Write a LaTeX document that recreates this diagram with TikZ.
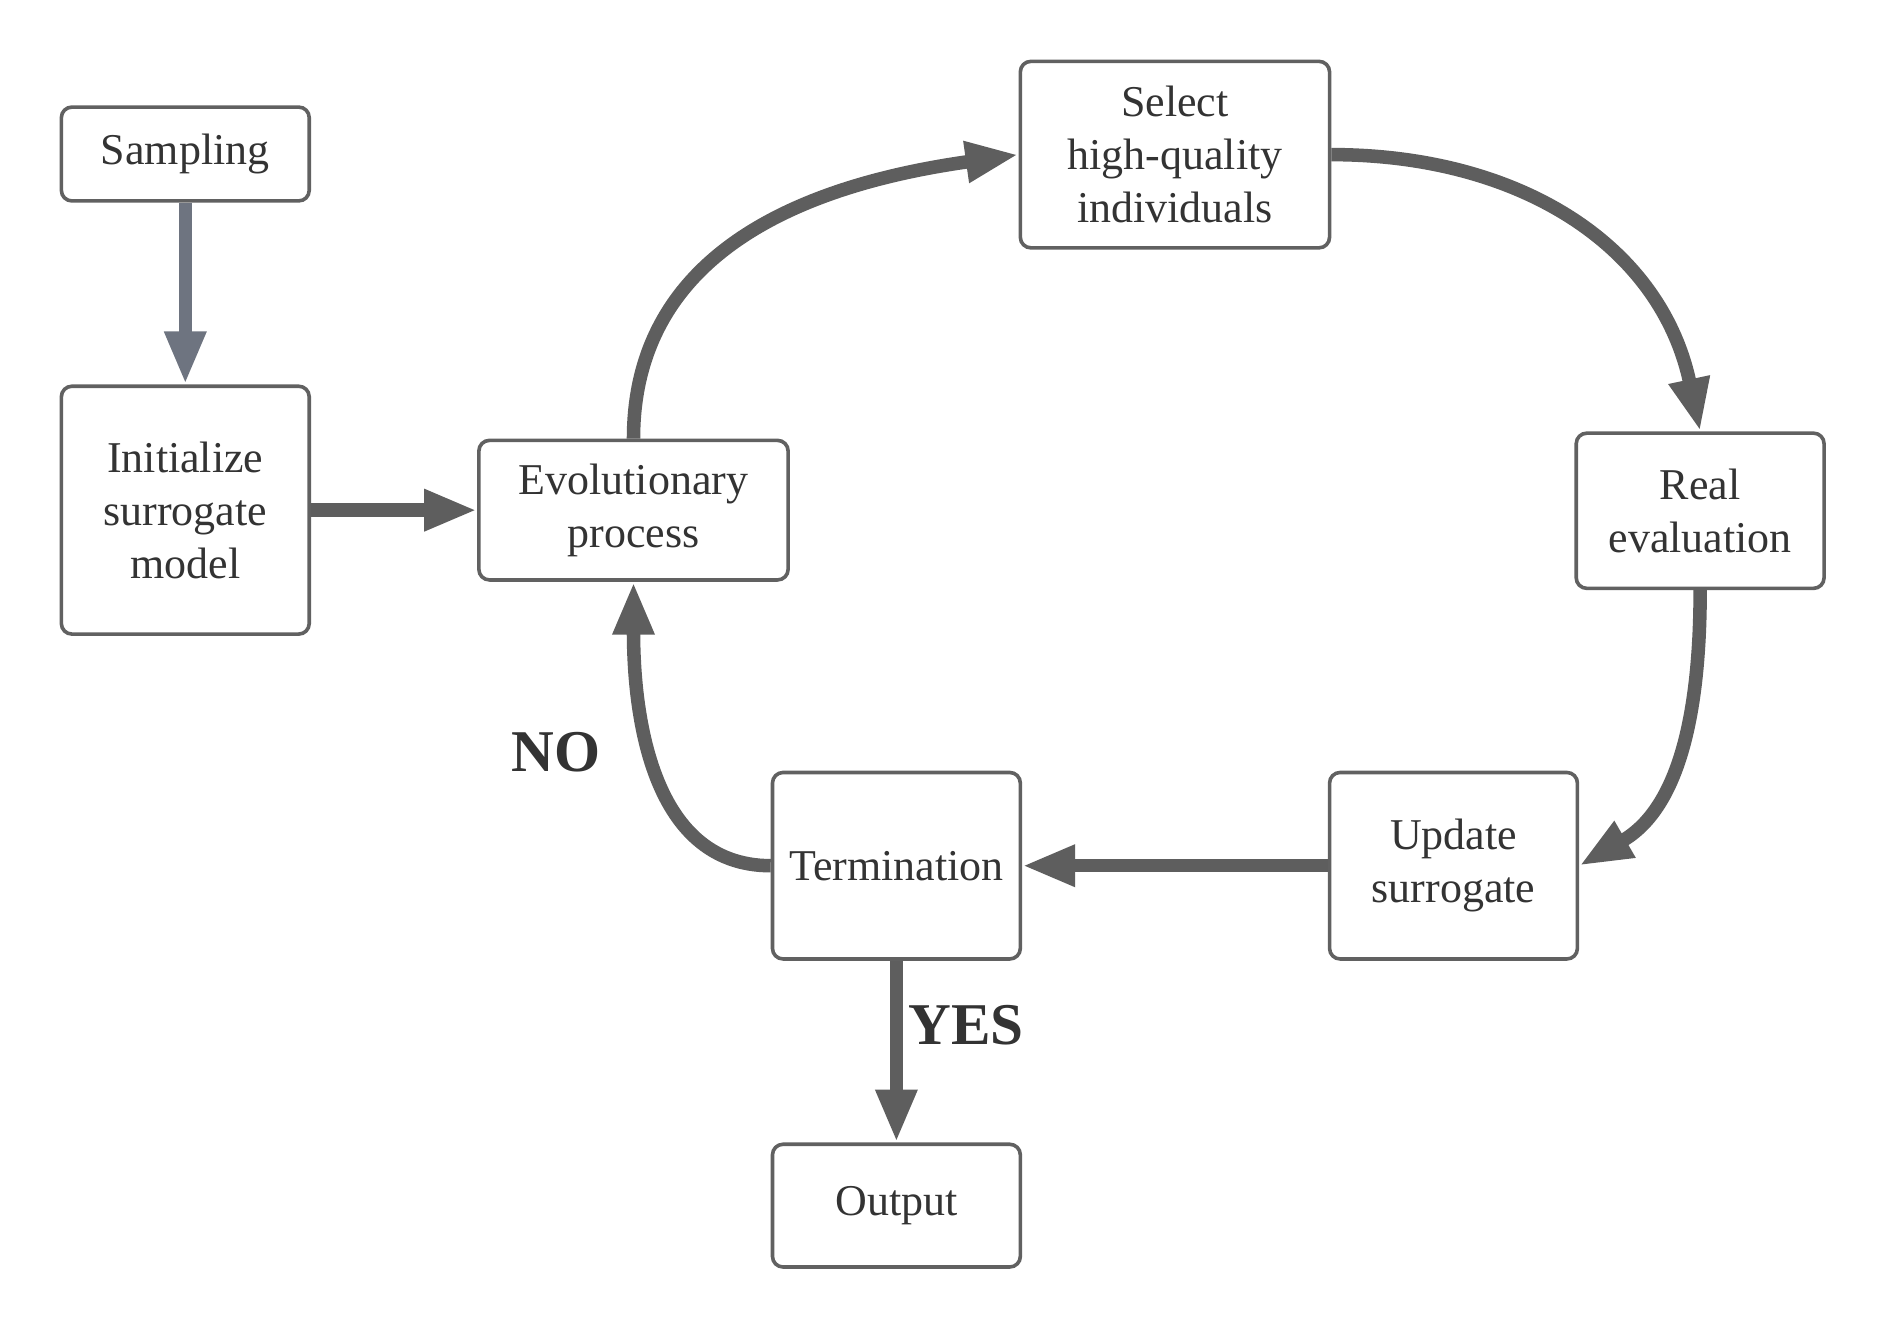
\documentclass[tikz,border=0pt]{standalone}
\usepackage{fontspec}
\setmainfont{Liberation Serif}
\usetikzlibrary{arrows.meta}
\definecolor{boxline}{HTML}{616161}
\definecolor{flowgray}{HTML}{5E5E5E}
\definecolor{bluegray}{HTML}{6E7480}
\definecolor{txt}{HTML}{333333}
\begin{document}
\begin{tikzpicture}[
    stepbox/.style={draw=boxline, line width=0.85pt, rounded corners=2.5pt, fill=white, text=txt, align=center, inner sep=0pt, font=\fontsize{10.4}{12.5}\selectfont},
    flow/.style={draw=flowgray, line width=3.2pt, -{Triangle[length=4.4mm, width=3.2mm]}},
    answer/.style={text=txt, font=\fontsize{14}{16}\selectfont\bfseries}
    ]
    \fill[white] (0,0) rectangle (15.6,-11);
    \useasboundingbox (0,0) rectangle (15.6,-11);

    \node [stepbox, minimum width=2.06cm, minimum height=0.78cm] (samp) at (1.54,-1.28) {Sampling};
    \node [stepbox, minimum width=2.06cm, minimum height=2.06cm] (init) at (1.54,-4.24) {Initialize\\surrogate\\model};
    \node [stepbox, minimum width=2.57cm, minimum height=1.16cm] (evol) at (5.265,-4.24) {Evolutionary\\process};
    \node [stepbox, minimum width=2.57cm, minimum height=1.55cm] (sel) at (9.765,-1.285) {Select\\high-quality\\individuals};
    \node [stepbox, minimum width=2.06cm, minimum height=1.29cm] (real) at (14.13,-4.245) {Real\\evaluation};
    \node [stepbox, minimum width=2.06cm, minimum height=1.55cm] (upd) at (12.08,-7.195) {Update\\surrogate};
    \node [stepbox, minimum width=2.06cm, minimum height=1.55cm] (term) at (7.45,-7.195) {Termination};
    \node [stepbox, minimum width=2.06cm, minimum height=1.02cm] (outp) at (7.45,-10.02) {Output};

    \draw [flow, draw=bluegray, -{Triangle[length=4.4mm, width=3.2mm]}] (samp) -- (init);
    \draw [flow] (init) -- (evol);
    \draw [flow] (evol.north) to[out=90, in=188, looseness=1.05] (sel.west);
    \draw [flow] (sel.east) to[out=0, in=102, looseness=1.05] (real.north);
    \draw [flow] (real.south) to[out=-90, in=30, looseness=1] (upd.east);
    \draw [flow] (upd) -- (term);
    \draw [flow] (term.west) to[out=180, in=-90, looseness=1] (evol.south);
    \draw [flow] (term) -- (outp);

    \node [answer] (no) at (4.62,-6.25) {NO};
    \node [answer] (yes) at (8.03,-8.52) {YES};
\end{tikzpicture}
\end{document}
